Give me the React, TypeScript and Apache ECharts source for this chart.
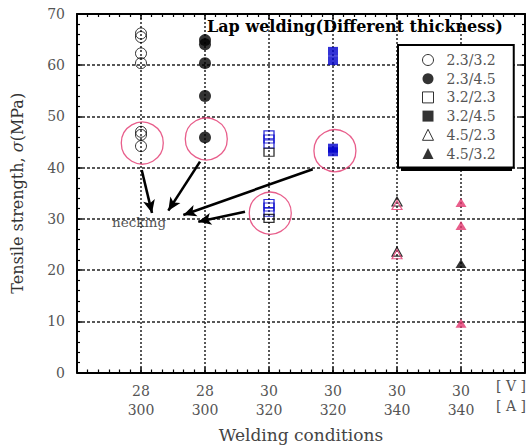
import React, { useEffect, useRef } from "react";
import * as echarts from "echarts";

// ---- data ----
const voltages = ["28", "28", "30", "30", "30", "30"];
const currents = ["300", "300", "320", "320", "340", "340"];
const seriesNames = ["2.3/3.2", "2.3/4.5", "3.2/2.3", "3.2/4.5", "4.5/2.3", "4.5/3.2"];
const columnOf = [1, 2, 3, 4, 5, 6];

const s23_32 = [66.2, 65.5, 62.3, 60.4, 47.0, 46.4, 44.2];
const s23_45 = [64.9, 64.1, 60.4, 54.0, 45.9];
const s32_23 = [46.4, 45.6, 44.6, 43.0, 33.0, 32.3, 31.3, 30.1];
const s32_23Blue = [true, true, true, false, true, true, true, false];
const s32_45 = [62.7, 60.9, 43.8, 43.1];
const s45_23 = [33.4, 32.7, 23.6, 23.1];
const s45_23Pink = [false, true, false, true];
const s45_32 = [33.2, 28.7, 21.3, 9.6];
const s45_32Pink = [true, true, false, true];

const neckingCircles = [
  [1.02, 44.8],
  [2.02, 45.6],
  [3.02, 31.1],
  [4.03, 43.3],
];
const neckingArrows = [
  [[1.011, 39.55], [1.172, 31.15]],
  [[1.922, 41.17], [1.427, 31.6]],
  [[3.683, 39.69], [1.661, 30.76]],
  [[2.625, 31.4], [1.895, 29.45]],
];

const FONT = "DejaVu Serif";
const GREY = "#555";
const PINK = "#e2366e";
const BLUE = "#0000cc";

export default function App() {
  const ref = useRef<HTMLDivElement>(null);
  useEffect(() => {
    document.body.style.margin = "0";
    document.body.style.overflow = "hidden";
    if (!ref.current) return;
    const chart = echarts.init(ref.current, null, { renderer: "svg" });

    const pts = (vals: number[], col: number) => vals.map((v) => [col, v]);

    const axisCommon = {
      type: "value" as const,
      axisLine: { show: true, onZero: false, lineStyle: { color: "#000", width: 2 } },
      axisTick: { show: true, inside: true, length: 5, lineStyle: { color: "#000", width: 1.5 } },
      minorTick: { show: true, length: 3, lineStyle: { color: "#000", width: 1.2 } },
    };

    const option: any = {
      animation: false,
      backgroundColor: "#fff",
      title: {
        text: "Lap welding(Different thickness)",
        left: 207,
        top: 18,
        padding: 0,
        textStyle: { fontFamily: FONT, fontSize: 16, fontWeight: "bold", color: "#000" },
      },
      grid: { left: 77, right: 3, top: 14, bottom: 72.5, containLabel: false, outerBoundsMode: "none" },
      xAxis: [
        {
          ...axisCommon,
          position: "bottom",
          min: 0,
          max: 7,
          interval: 1,
          minorTick: { ...axisCommon.minorTick, splitNumber: 6 },
          axisLabel: {
            color: GREY,
            fontFamily: FONT,
            fontSize: 14,
            lineHeight: 19,
            margin: 9,
            formatter: (v: number) => {
              const i = Math.round(v) - 1;
              if (i < 0 || i >= voltages.length) return "";
              return voltages[i] + "\n" + currents[i];
            },
          },
          splitLine: { show: true, lineStyle: { color: "#222", type: [2, 2], width: 1.5 } },
          name: "Welding conditions",
          nameLocation: "middle",
          nameGap: 54,
          nameTextStyle: { fontFamily: FONT, fontSize: 17, color: "#444" },
        },
        {
          ...axisCommon,
          position: "top",
          min: 0,
          max: 7,
          interval: 1,
          minorTick: { ...axisCommon.minorTick, splitNumber: 6 },
          axisLabel: { show: false },
          splitLine: { show: false },
        },
      ],
      yAxis: [
        {
          ...axisCommon,
          position: "left",
          min: 0,
          max: 70,
          interval: 10,
          minorTick: { ...axisCommon.minorTick, splitNumber: 5 },
          axisLabel: { color: GREY, fontFamily: FONT, fontSize: 14, margin: 12 },
          splitLine: { show: true, lineStyle: { color: "#222", type: [3, 2], width: 1.5 } },
          name: "Tensile strength, {i|σ}(MPa)",
          nameLocation: "middle",
          nameGap: 52,
          nameTextStyle: {
            fontFamily: FONT,
            fontSize: 16,
            color: "#333",
            rich: { i: { fontFamily: FONT, fontSize: 16, fontStyle: "italic", color: "#333" } },
          },
        },
        {
          ...axisCommon,
          position: "right",
          min: 0,
          max: 70,
          interval: 10,
          minorTick: { ...axisCommon.minorTick, splitNumber: 5 },
          axisLabel: { show: false },
          splitLine: { show: false },
        },
      ],
      legend: {
        orient: "vertical",
        left: 398,
        top: 45,
        padding: [8, 18, 7, 24],
        itemWidth: 11,
        itemHeight: 11,
        itemGap: 4.7,
        backgroundColor: "#fff",
        borderColor: "#000",
        borderWidth: 2,
        borderRadius: 0,
        z: 10,
        textStyle: { fontFamily: FONT, fontSize: 14, color: GREY, padding: [0, 0, 0, 8] },
        data: [
          { name: seriesNames[0], itemStyle: { color: "rgba(0,0,0,0)", borderColor: "#000", borderWidth: 1 } },
          { name: seriesNames[1], itemStyle: { color: "#000", borderWidth: 0 } },
          { name: seriesNames[2], itemStyle: { color: "rgba(0,0,0,0)", borderColor: "#000", borderWidth: 1 } },
          { name: seriesNames[3], itemStyle: { color: "#000", borderWidth: 0 } },
          { name: seriesNames[4], itemStyle: { color: "rgba(0,0,0,0)", borderColor: "#000", borderWidth: 1 } },
          { name: seriesNames[5], itemStyle: { color: "#000", borderWidth: 0 } },
        ],
      },
      graphic: [
        {
          type: "rect",
          z: 5,
          shape: { x: 401, y: 48, width: 111, height: 123 },
          style: { fill: "#000" },
        },
        {
          type: "text",
          x: 112,
          y: 222,
          style: { text: "necking", fontFamily: FONT, fontSize: 13.5, fill: GREY, textVerticalAlign: "middle" },
        },
        {
          type: "text",
          x: 526,
          y: 386,
          style: { text: "[ V ]", fontFamily: FONT, fontSize: 14, fill: GREY, textAlign: "right", textVerticalAlign: "middle" },
        },
        {
          type: "text",
          x: 526,
          y: 406,
          style: { text: "[ A ]", fontFamily: FONT, fontSize: 14, fill: GREY, textAlign: "right", textVerticalAlign: "middle" },
        },
      ],
      series: [
        {
          name: seriesNames[0],
          type: "scatter",
          symbol: "circle",
          symbolSize: 11,
          itemStyle: { color: "rgba(0,0,0,0)", borderColor: "#000", borderWidth: 1 },
          data: pts(s23_32, columnOf[0]),
        },
        {
          name: seriesNames[1],
          type: "scatter",
          symbol: "circle",
          symbolSize: 12,
          itemStyle: { color: "#000" },
          data: pts(s23_45, columnOf[1]),
        },
        {
          name: seriesNames[2],
          type: "scatter",
          symbol: "rect",
          symbolSize: [10, 8],
          itemStyle: { color: "rgba(0,0,0,0)", borderColor: "#000", borderWidth: 1.2 },
          data: s32_23.map((v, i) => ({
            value: [columnOf[2], v],
            itemStyle: { borderColor: s32_23Blue[i] ? BLUE : "#000" },
          })),
        },
        {
          name: seriesNames[3],
          type: "scatter",
          symbol: "rect",
          symbolSize: [10, 9],
          itemStyle: { color: BLUE },
          data: pts(s32_45, columnOf[3]),
        },
        {
          name: seriesNames[4],
          type: "scatter",
          symbol: "triangle",
          symbolSize: [10, 9],
          itemStyle: { color: "rgba(0,0,0,0)", borderColor: "#000", borderWidth: 1.2 },
          data: s45_23.map((v, i) => ({
            value: [columnOf[4], v],
            itemStyle: { borderColor: s45_23Pink[i] ? PINK : "#000" },
          })),
        },
        {
          name: seriesNames[5],
          type: "scatter",
          symbol: "triangle",
          symbolSize: [11, 9],
          itemStyle: { color: "#000" },
          data: s45_32.map((v, i) => ({
            value: [columnOf[5], v],
            itemStyle: { color: s45_32Pink[i] ? PINK : "#000" },
          })),
        },
        {
          name: "necking",
          type: "scatter",
          symbol: "circle",
          symbolSize: 42,
          silent: true,
          z: 1,
          itemStyle: { color: "rgba(0,0,0,0)", borderColor: PINK, borderWidth: 1.3 },
          data: neckingCircles,
          markLine: {
            silent: true,
            symbol: ["none", "arrow"],
            symbolSize: [9, 13],
            label: { show: false },
            lineStyle: { color: "#000", width: 2.6, type: "solid" },
            emphasis: { disabled: true },
            data: neckingArrows.map(([a, b]) => [{ coord: a }, { coord: b }]),
          },
        },
      ],
    };

    chart.setOption(option);
    return () => chart.dispose();
  }, []);

  return <div ref={ref} style={{ width: 528, height: 445 }} />;
}
